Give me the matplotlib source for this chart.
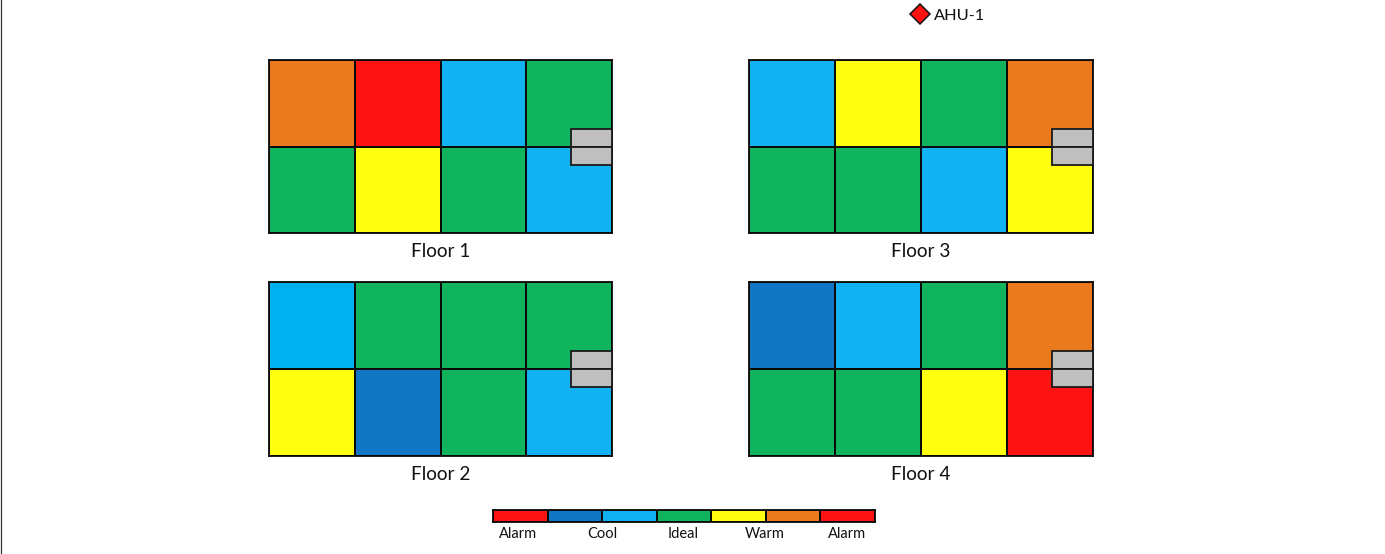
import matplotlib
matplotlib.use('Agg')
import matplotlib.pyplot as plt
import numpy as np
from matplotlib.colors import ListedColormap
from matplotlib.patches import Rectangle

plt.rcParams['font.family'] = ['Lato', 'DejaVu Sans']

W, H = 1385, 554

# zone states: 0 alarm, 1 cold, 2 cool, 3 ideal, 4 warm, 5 hot, 6 cool (floor 2 shade)
state_colors = ['#FF1212', '#1177C4', '#11B1F2', '#10B45C', '#FFFF12', '#EB7A1E', '#00B0F0']

floor_names = ['Floor 1', 'Floor 2', 'Floor 3', 'Floor 4']
floor1 = [[5, 0, 2, 3], [3, 4, 3, 2]]
floor2 = [[6, 3, 3, 3], [4, 1, 3, 2]]
floor3 = [[2, 4, 3, 5], [3, 3, 2, 4]]
floor4 = [[1, 2, 3, 5], [3, 3, 4, 0]]
floors = [floor1, floor2, floor3, floor4]

legend_states = [0, 1, 2, 3, 4, 5, 0]
legend_labels = ['Alarm', 'Cool', 'Ideal', 'Warm', 'Alarm']

cmap = ListedColormap(state_colors)


def px_axes(fig, x0, y0, x1, y1):
    """Axes from pixel box, y measured from top of the image."""
    ax = fig.add_axes([x0 / W, 1 - y1 / H, (x1 - x0) / W, (y1 - y0) / H])
    ax.set_xticks([])
    ax.set_yticks([])
    for s in ax.spines.values():
        s.set_linewidth(1.3)
        s.set_color('#0A0A0A')
    return ax


def draw_cells(ax, grid):
    grid = np.array(grid)
    ax.pcolormesh(grid, cmap=cmap, vmin=-0.5, vmax=len(state_colors) - 0.5,
                  edgecolors='#0A0A0A', linewidth=1.3)
    ax.invert_yaxis()


fig = plt.figure(figsize=(W / 100, H / 100), dpi=100)

boxes = [(269, 60, 612, 233), (269, 282, 612, 456),
         (749, 60, 1093, 233), (749, 282, 1093, 456)]
label_y = [251.5, 474, 251.5, 474]

for name, grid, box, ly in zip(floor_names, floors, boxes, label_y):
    ax = px_axes(fig, *box)
    draw_cells(ax, grid)
    # grey AHU block on the right edge, split over the two rows
    bw = 41 / (box[2] - box[0])
    bh = 18 / (box[3] - box[1])
    for yb in (0.5, 0.5 - bh):
        ax.add_patch(Rectangle((1 - bw, yb), bw, bh, transform=ax.transAxes,
                               fc='#BFBFBF', ec='#1A1A1A', lw=1.3, zorder=5,
                               clip_on=False))
    fig.text((box[0] + box[2]) / 2 / W, 1 - ly / H, name,
             ha='center', va='center', fontsize=13.7, color='#111111')

# legend bar
lax = px_axes(fig, 493, 510, 875, 522)
draw_cells(lax, [legend_states])
for lab, xp in zip(legend_labels, [518, 602, 683, 765, 847]):
    fig.text(xp / W, 1 - 534.5 / H, lab, ha='center', va='center',
             fontsize=10.5, color='#111111')

# full figure overlay for AHU marker and left border
over = fig.add_axes([0, 0, 1, 1], facecolor='none')
over.set_xlim(0, W)
over.set_ylim(H, 0)
over.axis('off')
over.plot([920], [14], marker='D', ms=10.5, mfc='#FF1212', mec='#111111', mew=1.1)
over.text(934, 16, 'AHU-1', ha='left', va='center', fontsize=11.8, color='#111111')
over.axvline(0.5, color='#333333', lw=0.9)

fig.savefig('out.png', dpi=100)
